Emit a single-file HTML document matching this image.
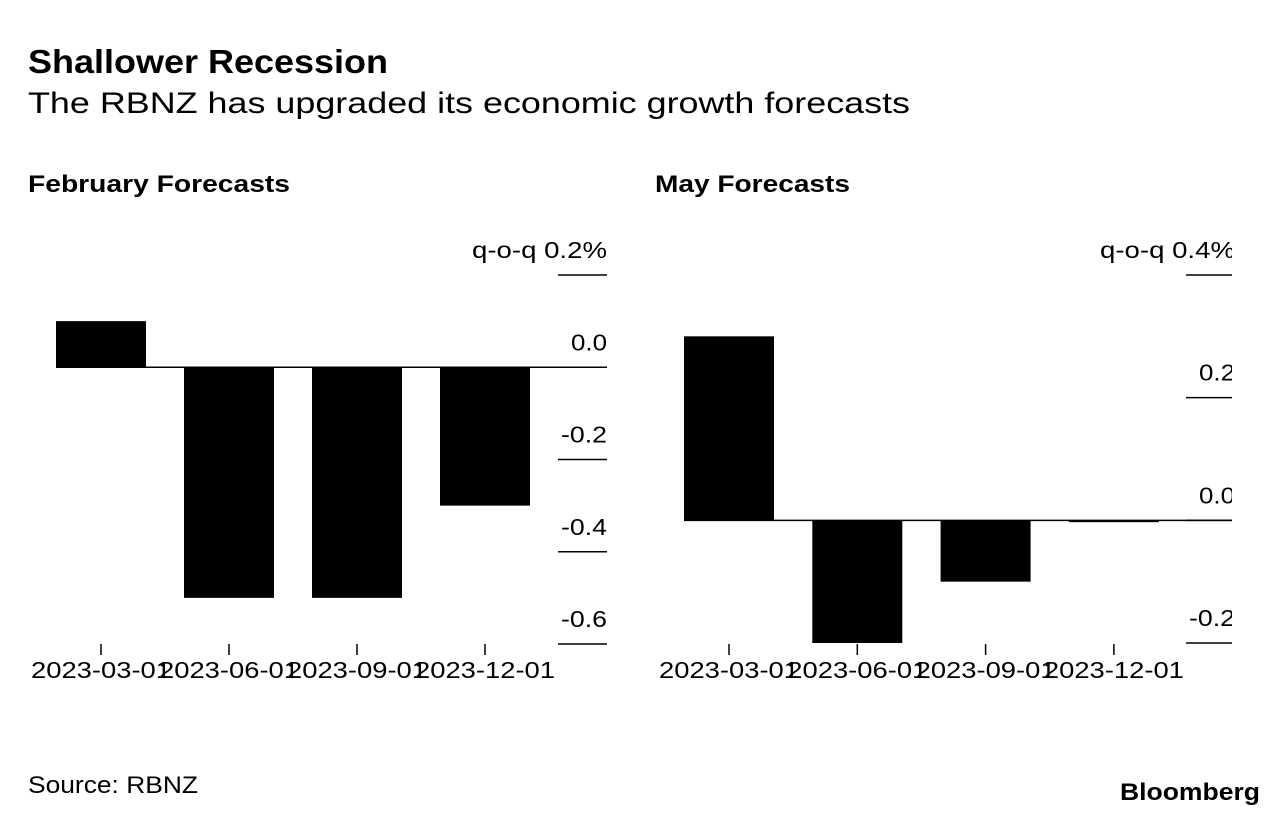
<!DOCTYPE html>
<html><head><meta charset="utf-8"><style>
html,body{margin:0;padding:0;background:#fff;}
body{width:1283px;height:824px;overflow:hidden;font-family:"Liberation Sans",sans-serif;}
</style></head><body>
<svg width="1283" height="824" xmlns="http://www.w3.org/2000/svg" font-family="Liberation Sans, sans-serif">
<text x="28" y="73" font-size="33" font-weight="bold" textLength="360" lengthAdjust="spacingAndGlyphs">Shallower Recession</text>
<text x="28" y="113" font-size="30" textLength="882" lengthAdjust="spacingAndGlyphs">The RBNZ has upgraded its economic growth forecasts</text>
<text x="28" y="192" font-size="24" font-weight="bold" textLength="262" lengthAdjust="spacingAndGlyphs">February Forecasts</text>
<text x="655" y="192" font-size="24" font-weight="bold" textLength="195" lengthAdjust="spacingAndGlyphs">May Forecasts</text>
<text x="28" y="793" font-size="24" textLength="170" lengthAdjust="spacingAndGlyphs">Source: RBNZ</text>
<text x="1120" y="800" font-size="24" font-weight="bold" textLength="140" lengthAdjust="spacingAndGlyphs">Bloomberg</text>
<g id="left"></g>
<defs><clipPath id="rc"><rect x="600" y="200" width="632" height="520"/></clipPath></defs>
<g id="right" clip-path="url(#rc)"></g>
</svg>
<script>
const categories=["2023-03-01","2023-06-01","2023-09-01","2023-12-01"];
const febValues=[0.1,-0.5,-0.5,-0.3];
const mayValues=[0.3,-0.2,-0.1,-0.003];
const febTicks=[0.2,0.0,-0.2,-0.4,-0.6];
const mayTicks=[0.4,0.2,0.0,-0.2];
const NS="http://www.w3.org/2000/svg";
function mk(g,tag,attrs,txt){const e=document.createElementNS(NS,tag);for(const k in attrs)e.setAttribute(k,attrs[k]);if(txt!=null)e.textContent=txt;g.appendChild(e);return e;}
function panel(id,vals,ticks,cfg){
  const g=document.getElementById(id);
  const y=v=>cfg.y0+(cfg.top-v)/(cfg.top-cfg.bot)*(cfg.y1-cfg.y0);
  const x=i=>cfg.x0+i*cfg.step;
  ticks.forEach((t,i)=>{
    const l=mk(g,'line',{x1:cfg.tx0,x2:cfg.tx1,y1:y(t),y2:y(t),stroke:'#000','stroke-width':1.5});
    
    
    let s=(t===0?'0.0':t.toFixed(1));
    if(i===0) s='q-o-q '+s+'%';
    const a={x:cfg.lx,y:y(t)-17,'font-size':23,'text-anchor':'end'};
    const w=(s.length>5)?(s.length===10?135:s.length*13.5):(s.length===4?46:36);
    a.textLength=w; a.lengthAdjust='spacingAndGlyphs';
    const tx=mk(g,'text',a,s);
    
    
  });
  vals.forEach((v,i)=>{
    const y0=y(0),yv=y(v);
    const r=mk(g,'rect',{x:x(i)-45,width:90,y:Math.min(y0,yv),height:Math.max(Math.abs(yv-y0),1.5),fill:'#000'});
    
    
    const tk=mk(g,'line',{x1:x(i),x2:x(i),y1:644,y2:655,stroke:'#000','stroke-width':1.5});
    
    
    const lb=mk(g,'text',{x:x(i),y:678,'font-size':23,'text-anchor':'middle',textLength:140,lengthAdjust:'spacingAndGlyphs'},categories[i]);
    
    
  });
  const b=mk(g,'line',{x1:cfg.x0-45,x2:cfg.tx1,y1:y(0),y2:y(0),stroke:'#000','stroke-width':1.5});
  
  
}
panel('left',febValues,febTicks,{top:0.2,bot:-0.6,y0:275,y1:644,x0:101,step:128,tx0:558,tx1:607,lx:607});
panel('right',mayValues,mayTicks,{top:0.4,bot:-0.2,y0:275,y1:643,x0:729,step:128.3,tx0:1186,tx1:1233,lx:1235});
</script>
</body></html>
